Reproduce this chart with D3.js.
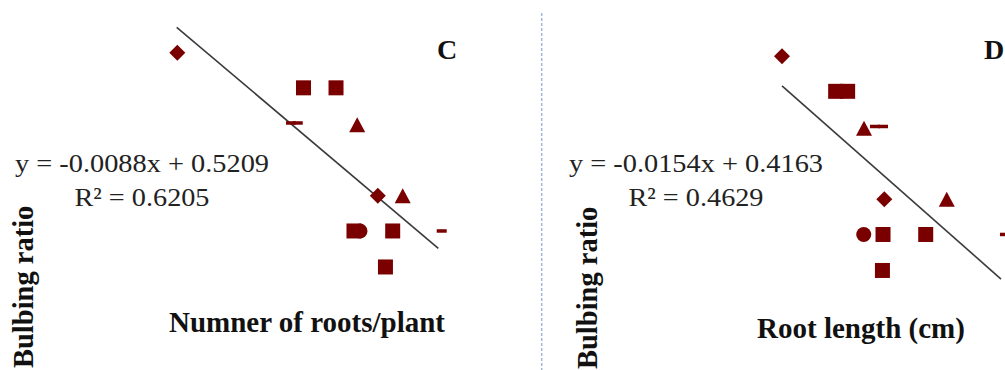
<!DOCTYPE html>
<html>
<head>
<meta charset="utf-8">
<script src="https://cdn.jsdelivr.net/npm/d3@7"></script>
<style>
  html, body { margin: 0; padding: 0; background: #ffffff; }
  svg { display: block; }
</style>
</head>
<body>
<svg id="chart" width="1005" height="370"></svg>
<script>
// ---- data -------------------------------------------------------------
// One entry per plotted point; the same plants appear in both panels.
const markerShapes  = ["diamond", "square", "square", "triangle", "dash", "dash",
                       "diamond", "triangle", "circle", "square", "square", "dash", "square"];
const bulbingRatio  = [0.385, 0.343, 0.343, 0.299, 0.301, 0.301,
                       0.214, 0.214, 0.172, 0.172, 0.172, 0.172, 0.129];
const rootsPerPlant = [12.07, 26.54, 30.27, 32.70, 25.11, 25.88,
                       35.06, 37.92, 33.02, 32.33, 36.77, 42.39, 35.94];
const rootLength    = [4.34, 8.01, 8.83, 9.95, 10.70, 11.25,
                       11.34, 15.61, 9.93, 11.25, 14.17, 19.59, 11.21];

// Panels and their linear trendlines
const panelLetters = ["C", "D"];
const xTitles      = ["Numner of roots/plant", "Root length (cm)"];
const yTitle       = "Bulbing ratio";
const slopes       = [-0.0088, -0.0154];
const intercepts   = [0.5209, 0.4163];
const rSquared     = [0.6205, 0.4629];
const trendFrom    = [12, 4.34];
const trendTo      = [42, 19.32];
const xValues      = [rootsPerPlant, rootLength];

// ---- layout -----------------------------------------------------------
const panels = [
  { xDomain: [12, 42],     xRange: [176.7, 438.3], yRange: [27.3, 248.3],
    letterX: 437, letterY: 59, eqX: 142, eqY: 172, titleX: 307, titleY: 332,
    yTitleX: 33, yTitleY: 368 },
  { xDomain: [4.34, 19.32], xRange: [782, 1001],   yRange: [30.8, 251.8],
    letterX: 984, letterY: 59, eqX: 696, eqY: 172, titleX: 861, titleY: 338,
    yTitleX: 597, yTitleY: 369 }
];
const yDomain = [0.4153, 0.1513];

const markColor = "#7a0000";
const serif = "'Liberation Serif', 'Times New Roman', serif";

const svg = d3.select("#chart");

// marker outlines, centred on the point
function markerPath(shape) {
  const p = d3.path();
  if (shape === "square") {
    p.rect(-7.5, -7.5, 15, 15);
  } else if (shape === "diamond") {
    p.moveTo(0, -8); p.lineTo(8, 0); p.lineTo(0, 8); p.lineTo(-8, 0); p.closePath();
  } else if (shape === "triangle") {
    p.moveTo(0, -7.5); p.lineTo(8, 7.5); p.lineTo(-8, 7.5); p.closePath();
  } else if (shape === "circle") {
    p.moveTo(7.5, 0); p.arc(0, 0, 7.5, 0, 2 * Math.PI); p.closePath();
  } else if (shape === "dash") {
    p.rect(-5, -1.75, 10, 3.5);
  }
  return p.toString();
}

// plain hyphen-minus for negative coefficients
const fmt4 = d3.formatLocale({ decimal: ".", thousands: ",", grouping: [3],
                               currency: ["", ""], minus: "-" }).format(".4f");

panels.forEach((cfg, i) => {
  const x = d3.scaleLinear().domain(cfg.xDomain).range(cfg.xRange);
  const y = d3.scaleLinear().domain(yDomain).range(cfg.yRange);
  const g = svg.append("g").attr("class", "panel-" + panelLetters[i]);

  // trendline
  const trend = [trendFrom[i], trendTo[i]].map(v => [v, slopes[i] * v + intercepts[i]]);
  g.append("path")
    .attr("d", d3.line().x(d => x(d[0])).y(d => y(d[1]))(trend))
    .attr("fill", "none")
    .attr("stroke", "#3a3a3a")
    .attr("stroke-width", 1.6);

  // points
  const pts = markerShapes.map((s, k) => ({ shape: s, xv: xValues[i][k], yv: bulbingRatio[k] }));
  g.selectAll("path.pt")
    .data(pts)
    .join("path")
    .attr("class", "pt")
    .attr("transform", d => `translate(${x(d.xv)},${y(d.yv)})`)
    .attr("d", d => markerPath(d.shape))
    .attr("fill", markColor);

  // regression equation
  const sign = intercepts[i] >= 0 ? "+" : "-";
  const eq = g.append("g")
    .attr("font-family", serif)
    .attr("font-size", 26)
    .attr("fill", "#222")
    .attr("text-anchor", "middle");
  eq.append("text")
    .attr("x", cfg.eqX).attr("y", cfg.eqY)
    .attr("textLength", 254).attr("lengthAdjust", "spacingAndGlyphs")
    .text(`y = ${fmt4(slopes[i])}x ${sign} ${fmt4(Math.abs(intercepts[i]))}`);
  eq.append("text")
    .attr("x", cfg.eqX).attr("y", cfg.eqY + 34)
    .attr("textLength", 135).attr("lengthAdjust", "spacingAndGlyphs")
    .text(`R\u00B2 = ${fmt4(rSquared[i])}`);

  // panel letter
  g.append("text")
    .attr("x", cfg.letterX).attr("y", cfg.letterY)
    .attr("font-family", serif).attr("font-weight", "bold").attr("font-size", 28)
    .attr("fill", "#111")
    .text(panelLetters[i]);

  // axis titles
  g.append("text")
    .attr("x", cfg.titleX).attr("y", cfg.titleY)
    .attr("text-anchor", "middle")
    .attr("font-family", serif).attr("font-weight", "bold").attr("font-size", 29)
    .attr("fill", "#111")
    .text(xTitles[i]);
  g.append("text")
    .attr("transform", `translate(${cfg.yTitleX},${cfg.yTitleY}) rotate(-90)`)
    .attr("font-family", serif).attr("font-weight", "bold").attr("font-size", 28.5)
    .attr("fill", "#111")
    .text(yTitle);
});

// dotted divider between the two panels
svg.append("line")
  .attr("x1", 541.7).attr("x2", 541.7)
  .attr("y1", 13).attr("y2", 370)
  .attr("stroke", "#9fb6d8")
  .attr("stroke-width", 1.5)
  .attr("stroke-dasharray", "3,2");
</script>
</body>
</html>
